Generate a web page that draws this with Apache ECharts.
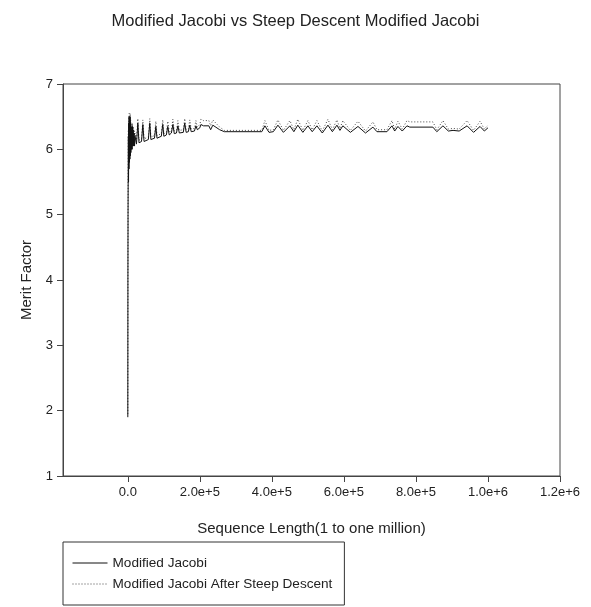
<!DOCTYPE html>
<html>
<head>
<meta charset="utf-8">
<script src="https://cdn.jsdelivr.net/npm/echarts@6/dist/echarts.min.js"></script>
<style>
  html, body { margin: 0; padding: 0; background: #fff; }
  #chart { width: 591px; height: 607px; }
</style>
</head>
<body>
<div id="chart"></div>
<script>
var seqLength = [
    1, 300, 600, 1000, 1500, 2000, 2600, 3200, 3800, 4400, 5000, 5700, 6400, 7100, 7800, 8500,
    9300, 10100, 11000, 12000, 13000, 14000, 15000, 16200, 17400, 18600, 20000,
    24000, 27800, 31000, 38000, 41700, 45000, 57000, 61000, 64000, 74000, 77800, 81000,
    93000, 97000, 100000, 107000, 111000, 115000, 121000, 125000, 129000, 135000, 139000, 143000,
    154000, 158000, 162000, 168000, 172000, 176000, 185000, 189000, 193000, 200000, 203000,
    210000, 225000, 230000, 236000, 241000, 255000, 268000,
    372000, 380600, 392000, 404000, 416700, 432000, 450000, 461000, 472000, 486000, 500000,
    512000, 525000, 540000, 555600, 568000, 580600, 589000, 597000, 618000, 639000, 660000,
    680600, 691700, 719500, 733400, 741000, 750000, 762000, 775000, 783000, 847000, 858000,
    875000, 890000, 903000, 920000, 942000, 960000, 978000, 990000, 1000000
];
var meritJacobi = [
    1.9, 4.0, 5.0, 5.6, 6.2, 5.5, 6.4, 5.7, 6.5, 5.8, 6.45, 5.85, 6.5, 5.9, 6.4, 5.95,
    6.35, 6.0, 6.3, 6.0, 6.35, 6.05, 6.3, 6.05, 6.25, 6.05, 6.2,
    6.08, 6.4, 6.1, 6.12, 6.38, 6.12, 6.15, 6.4, 6.15, 6.17, 6.35, 6.17,
    6.2, 6.38, 6.2, 6.22, 6.35, 6.22, 6.25, 6.38, 6.24, 6.25, 6.36, 6.25,
    6.26, 6.4, 6.26, 6.27, 6.37, 6.27, 6.28, 6.36, 6.3, 6.33, 6.38,
    6.36, 6.36, 6.3, 6.37, 6.36, 6.3, 6.27,
    6.27, 6.36, 6.26, 6.27, 6.37, 6.26, 6.36, 6.27, 6.37, 6.26, 6.36,
    6.27, 6.36, 6.25, 6.37, 6.27, 6.37, 6.29, 6.36, 6.26, 6.35, 6.25,
    6.34, 6.27, 6.27, 6.36, 6.28, 6.35, 6.28, 6.36, 6.34, 6.34, 6.27,
    6.36, 6.28, 6.29, 6.28, 6.36, 6.26, 6.35, 6.28, 6.33
];
var meritSteep = [
    1.95, 4.1, 5.1, 5.7, 6.3, 5.6, 6.5, 5.8, 6.55, 5.9, 6.5, 5.95, 6.55, 6.0, 6.45, 6.05,
    6.4, 6.05, 6.35, 6.05, 6.4, 6.1, 6.35, 6.1, 6.3, 6.1, 6.25,
    6.12, 6.47, 6.14, 6.16, 6.45, 6.16, 6.19, 6.47, 6.19, 6.21, 6.43, 6.21,
    6.24, 6.45, 6.24, 6.26, 6.43, 6.26, 6.28, 6.46, 6.28, 6.29, 6.44, 6.29,
    6.3, 6.47, 6.3, 6.31, 6.45, 6.31, 6.32, 6.44, 6.34, 6.38, 6.46,
    6.44, 6.44, 6.36, 6.45, 6.44, 6.34, 6.29,
    6.29, 6.44, 6.29, 6.3, 6.45, 6.29, 6.44, 6.3, 6.46, 6.29, 6.44,
    6.3, 6.44, 6.28, 6.46, 6.3, 6.45, 6.32, 6.44, 6.29, 6.43, 6.28,
    6.42, 6.3, 6.3, 6.44, 6.31, 6.43, 6.31, 6.44, 6.42, 6.42, 6.3,
    6.44, 6.31, 6.32, 6.31, 6.44, 6.29, 6.43, 6.31, 6.37
];
var xTicks = [0, 200000, 400000, 600000, 800000, 1000000, 1200000];

function pairs(xs, ys) {
    var out = [];
    for (var i = 0; i < xs.length; i++) out.push([xs[i], ys[i]]);
    return out;
}

function sciLabel(v) {
    if (v === 0) return '0.0';
    var e = Math.floor(Math.log10(v) + 1e-9);
    return (v / Math.pow(10, e)).toFixed(1) + 'e+' + e;
}

var myChart = echarts.init(document.getElementById('chart'));
var option = {
    animation: false,
    textStyle: { fontFamily: 'Liberation Sans, Arial, sans-serif' },
    title: {
        text: 'Modified Jacobi vs Steep Descent Modified Jacobi',
        left: 'center',
        top: 8,
        textStyle: { fontSize: 16.5, fontWeight: 'normal', color: '#222' }
    },
    grid: {
        left: 63, right: 31, top: 84, bottom: 131,
        show: true, borderColor: '#444', borderWidth: 1
    },
    legend: {
        orient: 'vertical',
        left: 63,
        top: 542,
        padding: [14, 12, 14, 9],
        itemGap: 7,
        itemWidth: 35,
        itemHeight: 14,
        borderColor: '#333',
        borderWidth: 1,
        borderRadius: 0,
        itemStyle: { opacity: 0 },
        lineStyle: { width: 1, type: 'inherit', color: 'inherit' },
        textStyle: { fontSize: 13.6, color: '#222' },
        data: ['Modified Jacobi', 'Modified Jacobi After Steep Descent']
    },
    xAxis: {
        type: 'value',
        min: -180000,
        max: 1200000,
        name: 'Sequence Length(1 to one million)',
        nameLocation: 'middle',
        nameGap: 45,
        nameTextStyle: { fontSize: 15, color: '#222' },
        axisLine: { onZero: false, lineStyle: { color: '#444' } },
        axisTick: { show: true, length: 6, customValues: xTicks, lineStyle: { color: '#444' } },
        axisLabel: { customValues: xTicks, formatter: sciLabel, fontSize: 13, color: '#222', margin: 10 },
        splitLine: { show: false }
    },
    yAxis: {
        type: 'value',
        min: 1,
        max: 7,
        interval: 1,
        name: 'Merit Factor',
        nameLocation: 'middle',
        nameGap: 29,
        nameTextStyle: { fontSize: 15, color: '#222' },
        axisLine: { show: true, onZero: false, lineStyle: { color: '#444' } },
        axisTick: { show: true, length: 6, lineStyle: { color: '#444' } },
        axisLabel: { fontSize: 13, color: '#222', margin: 10 },
        splitLine: { show: false }
    },
    series: [
        {
            name: 'Modified Jacobi After Steep Descent',
            type: 'line',
            showSymbol: false,
            symbol: 'none',
            z: 1,
            lineStyle: { color: '#444', width: 1, type: [1, 2] },
            itemStyle: { color: '#444' },
            data: pairs(seqLength, meritSteep)
        },
        {
            name: 'Modified Jacobi',
            type: 'line',
            showSymbol: false,
            symbol: 'none',
            z: 2,
            lineStyle: { color: '#111', width: 1 },
            itemStyle: { color: '#111' },
            data: pairs(seqLength, meritJacobi)
        }
    ]
};
myChart.setOption(option);
</script>
</body>
</html>
